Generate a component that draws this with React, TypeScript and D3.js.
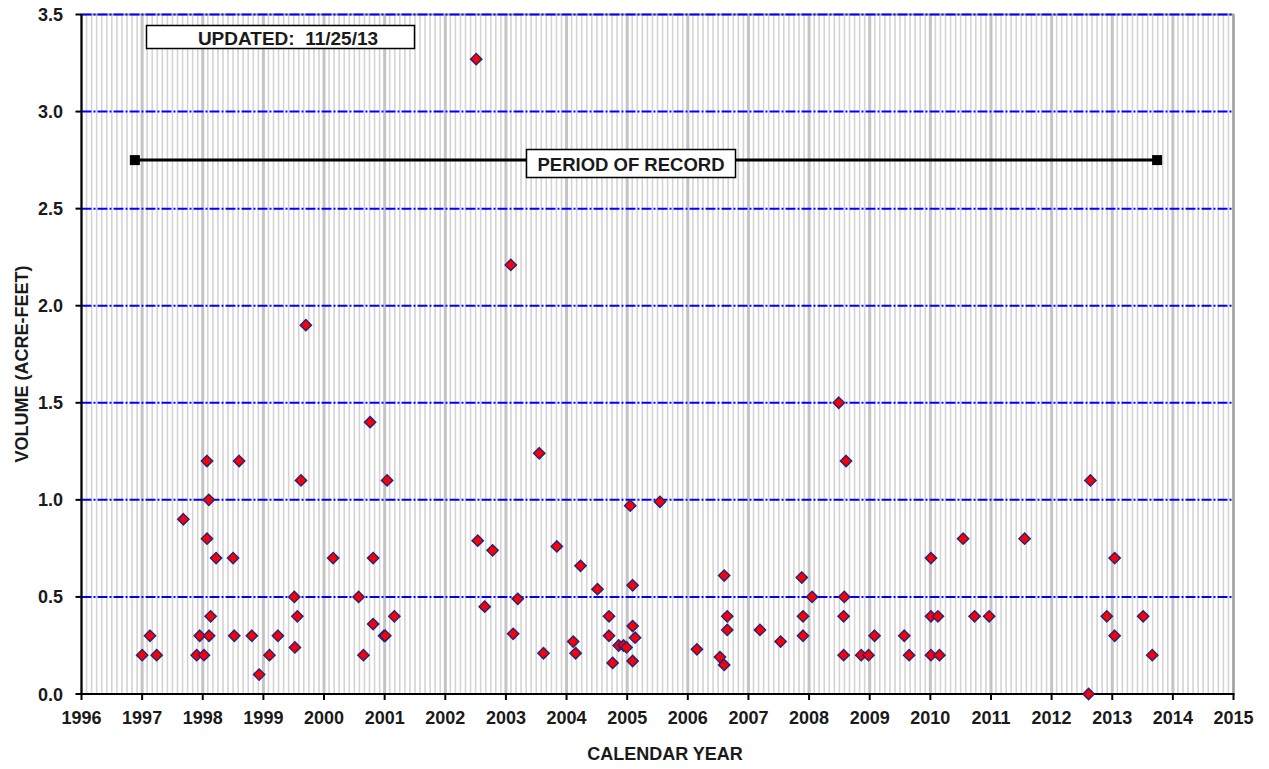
import React from "react";
import * as d3 from "d3";

const eventYears = [
  1997.0, 1997.13, 1997.24, 1997.68, 1997.9, 1997.95, 1998.02, 1998.07, 1998.07, 1998.1,
  1998.105, 1998.13, 1998.22, 1998.5, 1998.52, 1998.6, 1998.81, 1998.93, 1999.1, 1999.24,
  1999.51, 1999.52, 1999.56, 1999.62, 1999.7, 2000.15, 2000.57, 2000.65, 2000.76, 2000.81,
  2000.81, 2000.99, 2001.01, 2001.04, 2001.16, 2002.51, 2002.535, 2002.65, 2002.78, 2003.08,
  2003.12, 2003.195, 2003.55, 2003.62, 2003.84, 2004.11, 2004.15, 2004.23, 2004.51, 2004.7,
  2004.7, 2004.76, 2004.86, 2004.94, 2004.99, 2005.05, 2005.09, 2005.09, 2005.13, 2005.09,
  2005.54, 2006.15, 2006.53, 2006.6, 2006.6, 2006.65, 2006.65, 2007.19, 2007.53, 2007.88,
  2007.9, 2007.9, 2008.05, 2008.49, 2008.57, 2008.57, 2008.58, 2008.61, 2008.86, 2008.98,
  2009.08, 2009.57, 2009.65, 2010.01, 2010.01, 2010.01, 2010.125, 2010.15, 2010.54, 2010.73,
  2010.97, 2011.555, 2012.61, 2012.64, 2012.91, 2013.04, 2013.04, 2013.51, 2013.66,
];

const eventVolumes = [
  0.2, 0.3, 0.2, 0.9, 0.2, 0.3, 0.2, 1.2, 0.8, 1.0,
  0.3, 0.4, 0.7, 0.7, 0.3, 1.2, 0.3, 0.1, 0.2, 0.3,
  0.5, 0.24, 0.4, 1.1, 1.9, 0.7, 0.5, 0.2, 1.4, 0.7,
  0.36, 0.3, 0.3, 1.1, 0.4, 3.27, 0.79, 0.45, 0.74, 2.21,
  0.31, 0.49, 1.24, 0.21, 0.76, 0.27, 0.21, 0.66, 0.54, 0.4,
  0.3, 0.16, 0.25, 0.25, 0.24, 0.97, 0.56, 0.35, 0.29, 0.17,
  0.99, 0.23, 0.19, 0.15, 0.61, 0.4, 0.33, 0.33, 0.27, 0.6,
  0.4, 0.3, 0.5, 1.5, 0.4, 0.2, 0.5, 1.2, 0.2, 0.2,
  0.3, 0.3, 0.2, 0.7, 0.4, 0.2, 0.4, 0.2, 0.8, 0.4,
  0.4, 0.8, 0.0, 1.1, 0.4, 0.7, 0.3, 0.4, 0.2,
];

const xTickYears = d3.range(1996, 2016);
const yTickValues = [0, 0.5, 1.0, 1.5, 2.0, 2.5, 3.0, 3.5];
const periodOfRecord = [1996.88, 2013.74];
const periodLevel = 2.75;
const updatedLabel = "UPDATED:  11/25/13";
const periodLabel = "PERIOD OF RECORD";
const xTitle = "CALENDAR  YEAR";
const yTitle = "VOLUME (ACRE-FEET)";

const W = 1269;
const H = 769;
const left = 81.5;
const right = 1233.5;
const top = 14.5;
const bottom = 694;

const FONT = "'Liberation Sans', Arial, sans-serif";

export default function App() {
  const x = d3.scaleLinear().domain([1996, 2015]).range([left, right]);
  const y = d3.scaleLinear().domain([0, 3.5]).range([bottom, top]);

  const monthLines: number[] = [];
  for (let yr = 1996; yr < 2015; yr++) {
    for (let m = 1; m < 12; m++) monthLines.push(yr + m / 12);
  }

  const diamond = d3.symbol().type(d3.symbolDiamond2).size(80)();

  return (
    <svg
      width={W}
      height={H}
      style={{ position: "absolute", left: 0, top: 0, background: "#fff" }}
      fontFamily={FONT}
    >
      {/* vertical month grid */}
      {monthLines.map((v, i) => (
        <line key={"m" + i} x1={x(v)} x2={x(v)} y1={top} y2={bottom} stroke="#d4d4d4" strokeWidth={1.6} />
      ))}
      {xTickYears.map((v) => (
        <line key={"yg" + v} x1={x(v)} x2={x(v)} y1={top} y2={bottom} stroke="#c4c4c4" strokeWidth={3} />
      ))}
      {/* plot border */}
      <rect x={left} y={top} width={right - left} height={bottom - top} fill="none" stroke="#a0a0a0" strokeWidth={2} />
      {/* horizontal grid */}
      {yTickValues.filter((v) => v > 0).map((v) => (
        <line
          key={"hg" + v}
          x1={left}
          x2={right}
          y1={y(v)}
          y2={y(v)}
          stroke="#0000ff"
          strokeWidth={2}
          strokeDasharray="10,2,2,2"
        />
      ))}

      {/* axes */}
      <line x1={left} x2={left} y1={top} y2={bottom + 1} stroke="#000" strokeWidth={2} />
      <line x1={left - 1} x2={right + 1} y1={bottom} y2={bottom} stroke="#000" strokeWidth={2} />
      {yTickValues.map((v) => (
        <g key={"yt" + v}>
          <line x1={left - 6} x2={left} y1={y(v)} y2={y(v)} stroke="#000" strokeWidth={2} />
          <text x={63} y={y(v) + 6.5} textAnchor="end" fontSize={18} fontWeight="bold" fill="#1a1a1a">
            {v.toFixed(1)}
          </text>
        </g>
      ))}
      {xTickYears.map((v) => (
        <g key={"xt" + v}>
          <line x1={x(v)} x2={x(v)} y1={bottom} y2={bottom + 6} stroke="#000" strokeWidth={2} />
          <text x={x(v)} y={724} textAnchor="middle" fontSize={18} fontWeight="bold" fill="#1a1a1a">
            {v}
          </text>
        </g>
      ))}

      {/* axis titles */}
      <text x={665} y={760} textAnchor="middle" fontSize={18} fontWeight="bold" fill="#1a1a1a">
        {xTitle}
      </text>
      <text
        transform={`translate(27.5,364) rotate(-90)`}
        textAnchor="middle"
        fontSize={18}
        fontWeight="bold"
        fill="#1a1a1a"
      >
        {yTitle}
      </text>

      {/* updated box */}
      <rect x={146.5} y={25.5} width={268} height={23} fill="#fff" stroke="#000" strokeWidth={1.5} />
      <text x={288} y={44.5} textAnchor="middle" fontSize={19} fontWeight="bold" fill="#1a1a1a" xmlSpace="preserve">
        {updatedLabel}
      </text>

      {/* period of record */}
      <line
        x1={x(periodOfRecord[0])}
        x2={x(periodOfRecord[1])}
        y1={y(periodLevel)}
        y2={y(periodLevel)}
        stroke="#000"
        strokeWidth={3}
      />
      {periodOfRecord.map((v) => (
        <rect key={"p" + v} x={x(v) - 5} y={y(periodLevel) - 5} width={10} height={10} fill="#000" />
      ))}
      <rect x={526.5} y={149.5} width={209} height={28} fill="#fff" stroke="#000" strokeWidth={1.5} />
      <text x={631} y={170.5} textAnchor="middle" fontSize={18.5} fontWeight="bold" fill="#1a1a1a">
        {periodLabel}
      </text>

      {/* data points */}
      {eventYears.map((yr, i) => (
        <path
          key={"pt" + i}
          d={diamond as string}
          transform={`translate(${x(yr)},${y(eventVolumes[i])})`}
          fill="#ff0000"
          stroke="#2a237a"
          strokeWidth={1.5}
        />
      ))}
    </svg>
  );
}
